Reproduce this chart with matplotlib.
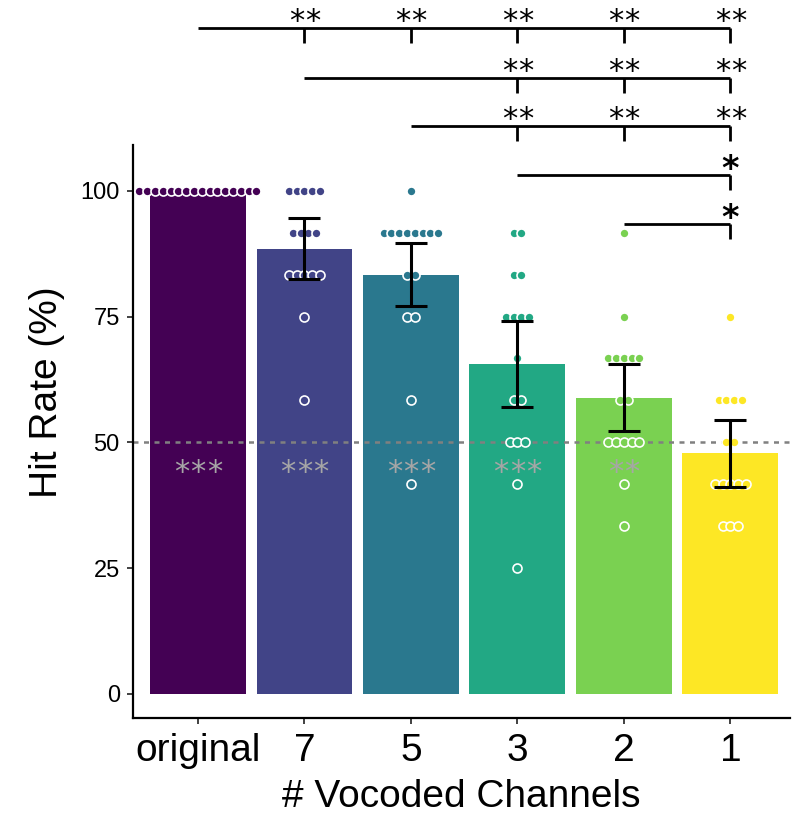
import matplotlib
matplotlib.use('Agg')
import matplotlib.pyplot as plt
import numpy as np

plt.rcParams['font.family'] = ['Liberation Sans', 'DejaVu Sans']

# ---------------- data ----------------
conditions = ['original', '7', '5', '3', '2', '1']
colors = ['#440154', '#414487', '#2A788E', '#22A884', '#7AD151', '#FDE725']

means = [100.0, 88.5, 83.3, 65.6, 58.9, 47.8]
ci_half = [0.0, 6.1, 6.3, 8.5, 6.6, 6.6]

scores_original = [100, 100, 100, 100, 100, 100, 100, 100,
                   100, 100, 100, 100, 100, 100, 100, 100]
scores_7 = [100, 100, 100, 100, 100, 91.67, 91.67, 91.67, 91.67,
            83.33, 83.33, 83.33, 83.33, 83.33, 75, 58.33]
scores_5 = [100, 91.67, 91.67, 91.67, 91.67, 91.67, 91.67, 91.67, 91.67,
            83.33, 83.33, 75, 75, 58.33, 41.67]
scores_3 = [91.67, 91.67, 83.33, 83.33, 75, 75, 75, 75, 66.67,
            58.33, 58.33, 50, 50, 50, 41.67, 25]
scores_2 = [91.67, 75, 66.67, 66.67, 66.67, 66.67, 66.67, 58.33, 58.33,
            50, 50, 50, 50, 50, 41.67, 33.33]
scores_1 = [75, 58.33, 58.33, 58.33, 58.33, 50, 50, 41.67, 41.67, 41.67,
            41.67, 41.67, 33.33, 33.33, 33.33]
all_scores = [scores_original, scores_7, scores_5, scores_3, scores_2, scores_1]

chance_level = 50
vs_chance = ['***', '***', '***', '***', '**', '']

y_ticks = [0, 25, 50, 75, 100]

# pairwise comparison rows: (start condition, [target conditions], label)
bracket_start = [0, 1, 2, 3, 4]
bracket_targets = [[1, 2, 3, 4, 5], [3, 4, 5], [3, 4, 5], [5], [5]]
bracket_labels = ['**', '**', '**', '*', '*']
bracket_levels = [132.4, 122.5, 112.9, 103.2, 93.4]

# ---------------- figure ----------------
fig = plt.figure(figsize=(8.05, 8.16), dpi=100)
ax = fig.add_axes([133 / 805, 1 - 718 / 816, 657 / 805, 573 / 816])

x = np.arange(len(conditions))
ax.bar(x, means, width=0.9, color=colors, zorder=1)

ax.axhline(chance_level, color='#808080', lw=1.8, ls=(0, (2, 2.2)), zorder=2)

star_font = ['DejaVu Sans']


def draw_stars(xc, y, label, gap_pt, **kw):
    n = len(label)
    for i in range(n):
        off = (i - (n - 1) / 2) * gap_pt
        ax.annotate('*', xy=(xc, y), xytext=(off, 0),
                    textcoords='offset points', ha='center', va='baseline',
                    family=star_font, annotation_clip=False, **kw)


for xi, lab in zip(x, vs_chance):
    if lab:
        draw_stars(xi, 42.4, lab, 11.9, fontsize=22, color='#A6A6A6',
                   zorder=3)

step = 0.0733
for xi, sc, col in zip(x, all_scores, colors):
    vals, counts = np.unique(np.array(sc), return_counts=True)
    for v, c in zip(vals, counts):
        offs = (np.arange(c) - (c - 1) / 2) * step
        ax.scatter(xi + offs, np.full(c, v), s=42, facecolor=col,
                   edgecolor='white', linewidth=1.2, zorder=4, clip_on=False)

for xi, m, e in zip(x, means, ci_half):
    if e > 0:
        ax.errorbar(xi, m, yerr=e, color='black', lw=2.2, capsize=11.5,
                    capthick=2.2, zorder=5)

# significance brackets
for s, targets, lab, lev in zip(bracket_start, bracket_targets,
                                bracket_labels, bracket_levels):
    ax.plot([s, max(targets)], [lev, lev], color='black', lw=2,
            clip_on=False, solid_capstyle='butt', zorder=6)
    for t in targets:
        ax.plot([t, t], [lev, lev - 3.0], color='black', lw=2,
                clip_on=False, solid_capstyle='butt', zorder=6)
        if lab == '**':
            draw_stars(t, lev - 0.5, lab, 11.5, fontsize=22,
                       color='black')
        else:
            draw_stars(t, lev - 0.8, lab, 0, fontsize=24,
                       fontweight='bold', color='black')

ax.set_xlim(-0.61, 5.56)
ax.set_ylim(-4.8, 109.1)
ax.set_xticks(x)
ax.set_xticklabels(conditions, fontsize=28)
ax.set_yticks(y_ticks)
ax.set_yticklabels([str(t) for t in y_ticks], fontsize=17)

for sp in ['top', 'right']:
    ax.spines[sp].set_visible(False)
for sp in ['left', 'bottom']:
    ax.spines[sp].set_linewidth(1.6)
ax.tick_params(axis='both', length=4.5, width=1.3, color='#333333')
ax.tick_params(axis='x', pad=6)
ax.tick_params(axis='y', pad=5)

fig.text(47 / 805, 1 - 392 / 816, 'Hit Rate (%)', rotation=90,
         ha='center', va='center', fontsize=28)
fig.text(461 / 805, 1 - 797 / 816, '# Vocoded Channels',
         ha='center', va='center', fontsize=28)

fig.savefig('out.png', dpi=100)
